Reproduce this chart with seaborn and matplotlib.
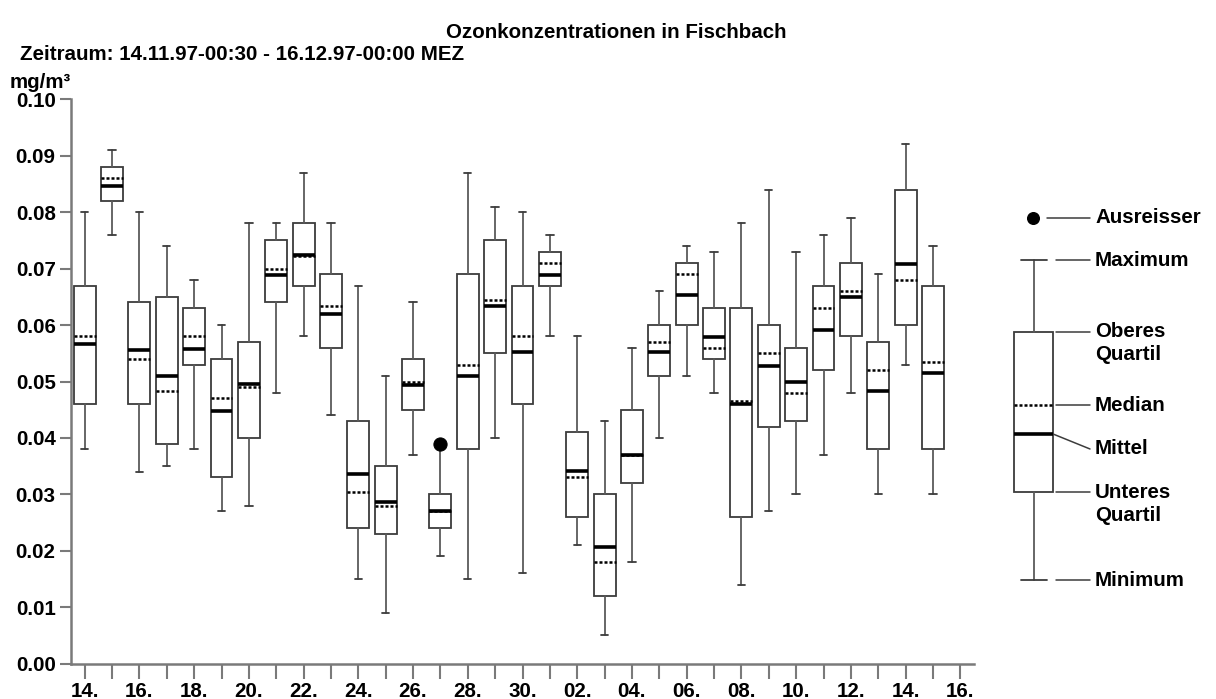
import numpy as np
import matplotlib
matplotlib.use("Agg")
import matplotlib.pyplot as plt
import seaborn as sns

# Daily ozone statistics (mg/m³), Fischbach, 14.11.97 - 15.12.97
days = ["14.", "15.", "16.", "17.", "18.", "19.", "20.", "21.", "22.", "23.",
        "24.", "25.", "26.", "27.", "28.", "29.", "30.", "01.", "02.", "03.",
        "04.", "05.", "06.", "07.", "08.", "09.", "10.", "11.", "12.", "13.",
        "14.", "15."]
minimum = [0.038, 0.076, 0.034, 0.035, 0.038, 0.027, 0.028, 0.048, 0.058, 0.044,
           0.015, 0.009, 0.037, 0.019, 0.015, 0.040, 0.016, 0.058, 0.021, 0.005,
           0.018, 0.040, 0.051, 0.048, 0.014, 0.027, 0.030, 0.037, 0.048, 0.030,
           0.053, 0.030]
lower_quartile = [0.046, 0.082, 0.046, 0.039, 0.053, 0.033, 0.040, 0.064, 0.067, 0.056,
                  0.024, 0.023, 0.045, 0.024, 0.038, 0.055, 0.046, 0.067, 0.026, 0.012,
                  0.032, 0.051, 0.060, 0.054, 0.026, 0.042, 0.043, 0.052, 0.058, 0.038,
                  0.060, 0.038]
median = [0.058, 0.086, 0.054, 0.0484, 0.058, 0.047, 0.049, 0.070, 0.0722, 0.0634,
          0.0304, 0.028, 0.050, 0.027, 0.053, 0.0645, 0.058, 0.071, 0.033, 0.018,
          0.037, 0.057, 0.069, 0.056, 0.0465, 0.055, 0.048, 0.063, 0.066, 0.052,
          0.068, 0.0535]
mean = [0.0567, 0.0846, 0.0555, 0.051, 0.0557, 0.0448, 0.0496, 0.0688, 0.0724, 0.062,
        0.0336, 0.0287, 0.0494, 0.027, 0.051, 0.0634, 0.0553, 0.0689, 0.0341, 0.0207,
        0.0369, 0.0553, 0.0653, 0.0579, 0.046, 0.0527, 0.0499, 0.0592, 0.0649, 0.0483,
        0.0709, 0.0515]
upper_quartile = [0.067, 0.088, 0.064, 0.065, 0.063, 0.054, 0.057, 0.075, 0.078, 0.069,
                  0.043, 0.035, 0.054, 0.030, 0.069, 0.075, 0.067, 0.073, 0.041, 0.030,
                  0.045, 0.060, 0.071, 0.063, 0.063, 0.060, 0.056, 0.067, 0.071, 0.057,
                  0.084, 0.067]
maximum = [0.080, 0.091, 0.080, 0.074, 0.068, 0.060, 0.078, 0.078, 0.087, 0.078,
           0.067, 0.051, 0.064, 0.0385, 0.087, 0.081, 0.080, 0.076, 0.058, 0.043,
           0.056, 0.066, 0.074, 0.073, 0.078, 0.084, 0.073, 0.076, 0.079, 0.069,
           0.092, 0.074]
outlier_day = [13]
outlier_value = [0.039]

tick_labels = ["14.", "16.", "18.", "20.", "22.", "24.", "26.", "28.", "30.",
               "02.", "04.", "06.", "08.", "10.", "12.", "14.", "16."]

# Key box illustrating the statistics
key_stats = dict(whislo=0.0148, q1=0.0304, mean=0.0407, med=0.0458,
                 q3=0.0588, whishi=0.0715)
key_outlier = 0.079

FS = 14.8

sns.set_theme(style="ticks")
plt.rcParams["font.family"] = ["Liberation Sans", "DejaVu Sans"]
plt.rcParams["font.weight"] = "bold"
plt.rcParams["text.color"] = "black"

fig = plt.figure(figsize=(12.16, 6.99), dpi=100)
ax = fig.add_axes([71 / 1216, 1 - 663.7 / 699, 903 / 1216, 564.4 / 699])

stats = [dict(whislo=lo, q1=a, med=m, mean=mu, q3=b, whishi=hi, fliers=[])
         for lo, a, m, mu, b, hi in zip(minimum, lower_quartile, median, mean,
                                        upper_quartile, maximum)]

box_style = dict(
    boxprops=dict(edgecolor="#3c3c3c", linewidth=1.3, facecolor="white"),
    whiskerprops=dict(color="#5a5a5a", linewidth=1.3),
    capprops=dict(color="#3c3c3c", linewidth=1.3),
    medianprops=dict(color="black", linewidth=1.8, linestyle=(0, (1.2, 0.8))),
    meanprops=dict(color="black", linewidth=2.6, linestyle="-"),
)

ax.bxp(stats, positions=np.arange(len(days)), widths=0.8, capwidths=0.27,
       showmeans=True, meanline=True, showfliers=False, patch_artist=True,
       manage_ticks=False, **box_style)

sns.scatterplot(x=outlier_day, y=outlier_value, ax=ax, color="black", s=90,
                edgecolor="black", zorder=5, legend=False)

ax.set_xlim(-0.5, 32.5)
ax.set_ylim(0.0, 0.10)
ax.set_xticks(np.arange(33))
ax.set_xticklabels([tick_labels[i // 2] if i % 2 == 0 else "" for i in range(33)])
ax.set_yticks(np.arange(0, 0.1001, 0.01))
ax.set_yticklabels([f"{v:.2f}" for v in np.arange(0, 0.1001, 0.01)])
ax.tick_params(axis="both", labelsize=FS, color="#7a7a7a", labelcolor="black",
               width=1.5, length=8, pad=3)
ax.tick_params(axis="x", length=11, pad=2)
for lbl in ax.get_xticklabels() + ax.get_yticklabels():
    lbl.set_fontweight("bold")
for side in ("top", "right"):
    ax.spines[side].set_visible(False)
for side in ("left", "bottom"):
    ax.spines[side].set_color("#7a7a7a")
    ax.spines[side].set_linewidth(1.8)
ax.grid(False)

fig.text(616 / 1216, 1 - 32 / 699, "Ozonkonzentrationen in Fischbach",
         ha="center", va="center", fontsize=FS, fontweight="bold")
fig.text(20 / 1216, 1 - 55 / 699, "Zeitraum: 14.11.97-00:30 - 16.12.97-00:00 MEZ",
         ha="left", va="center", fontsize=FS, fontweight="bold")
fig.text(10 / 1216, 1 - 82 / 699, "mg/m³", ha="left", va="center",
         fontsize=FS, fontweight="bold")

# Key panel on the right, x in pixel units
kx = fig.add_axes([1000 / 1216, 1 - 663.7 / 699, 216 / 1216, 564.4 / 699])
kx.set_xlim(0, 216)
kx.set_ylim(0.0, 0.10)
kx.axis("off")
key_box = dict(key_stats, fliers=[])
kx.bxp([key_box], positions=[33.7], widths=39, capwidths=26, showmeans=True,
       meanline=True, showfliers=False, patch_artist=True, manage_ticks=False,
       **box_style)
kx.scatter([33], [key_outlier], s=70, color="black", zorder=5)

px = 5644.0  # pixels per unit on the value axis
key_entries = [
    (key_outlier, key_outlier, 47, "Ausreisser", None),
    (key_stats["whishi"], key_stats["whishi"], 56, "Maximum", None),
    (key_stats["q3"], key_stats["q3"], 56, "Oberes", "Quartil"),
    (key_stats["med"], key_stats["med"], 56, "Median", None),
    (key_stats["mean"], key_stats["mean"] - 15 / px, 53, "Mittel", None),
    (key_stats["q1"], key_stats["q1"], 56, "Unteres", "Quartil"),
    (key_stats["whislo"], key_stats["whislo"], 56, "Minimum", None),
]
for y0, y1, x0, label, second in key_entries:
    kx.plot([x0, 90], [y0, y1], color="#3c3c3c", linewidth=1.1)
    kx.text(95, y1, label, ha="left", va="center", fontsize=FS,
            fontweight="bold")
    if second:
        kx.text(95, y1 - 23 / px, second, ha="left", va="center",
                fontsize=FS, fontweight="bold")

fig.savefig("out.png", dpi=100)
